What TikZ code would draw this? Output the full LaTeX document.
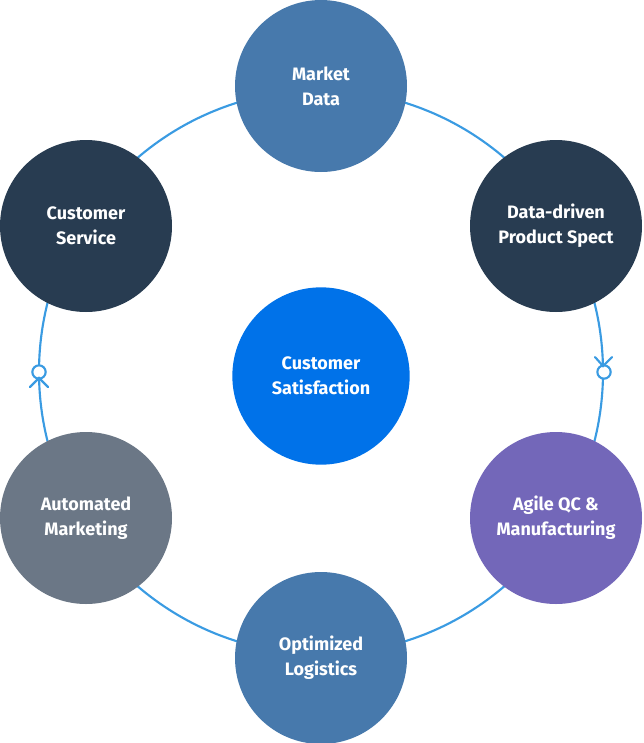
\documentclass[tikz,border=0pt]{standalone}
\usepackage{fontspec}
\setmainfont{Fira Sans}
\usetikzlibrary{positioning}
\definecolor{steel}{HTML}{4779AC}
\definecolor{navy}{HTML}{283C51}
\definecolor{brightblue}{HTML}{0072E9}
\definecolor{violet}{HTML}{7367B9}
\definecolor{slate}{HTML}{6B7786}
\definecolor{ringblue}{HTML}{3A9BE2}
\tikzset{
    stage/.style = {circle, minimum size=129pt, inner sep=0pt, align=center,
        text=white, font=\fontsize{13.5}{19}\selectfont\bfseries},
    ring/.style = {draw=ringblue, line width=1.6pt},
    knot/.style = {circle, draw=ringblue, line width=1.6pt, fill=white,
        minimum size=10pt, inner sep=0pt},
}
\begin{document}
\begin{tikzpicture}[x=0.75pt,y=-0.75pt]
        \useasboundingbox (0,0) rectangle (643,743);
        \draw [ring] (321,372) circle[radius=282];
        % small markers on the ring
        \node [knot] (kl) at (39,372) {};
        \node [knot] (kr) at (604,372) {};
        \draw [ring, line cap=round] (30,387) -- (39,378) -- (48,387);
        \draw [ring, line cap=round] (595,357) -- (603,366) -- (612,357);
        % stages
        \node [stage, fill=steel] (market) at (321,86) {Market\\Data};
        \node [stage, fill=navy] (spec) at (556,226) {Data-driven\\Product Spect};
        \node [stage, fill=violet] (agile) at (556,518) {Agile QC \&\\Manufacturing};
        \node [stage, fill=steel] (logistics) at (321,658) {Optimized\\Logistics};
        \node [stage, fill=slate] (marketing) at (86,518) {Automated\\Marketing};
        \node [stage, fill=navy] (service) at (86,226) {Customer\\Service};
        \node [stage, fill=brightblue, minimum size=133pt] (core) at (321,376) {Customer\\Satisfaction};
\end{tikzpicture}
\end{document}
